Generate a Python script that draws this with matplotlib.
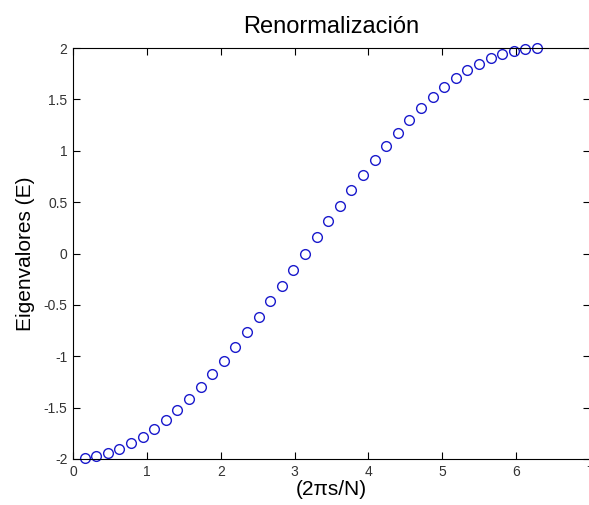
"""
Renormalization eigenvalues plot.
"""
import matplotlib.pyplot as plt

# x = 2*pi*s/N (N = 40 points)
x_vals = [0.157, 0.314, 0.471, 0.628, 0.785, 0.942, 1.100, 1.257, 1.414, 1.571,
          1.728, 1.885, 2.042, 2.199, 2.356, 2.513, 2.670, 2.827, 2.985, 3.142,
          3.299, 3.456, 3.613, 3.770, 3.927, 4.084, 4.241, 4.398, 4.555, 4.712,
          4.869, 5.027, 5.184, 5.341, 5.498, 5.655, 5.812, 5.969, 6.126, 6.283]
# eigenvalues E
e_vals = [-1.994, -1.975, -1.945, -1.902, -1.848, -1.782, -1.705, -1.618, -1.521, -1.414,
          -1.299, -1.176, -1.045, -0.908, -0.765, -0.618, -0.467, -0.313, -0.157, 0.000,
          0.157, 0.313, 0.467, 0.618, 0.765, 0.908, 1.045, 1.176, 1.299, 1.414,
          1.521, 1.618, 1.705, 1.782, 1.848, 1.902, 1.945, 1.975, 1.994, 2.000]

x_ticks = [0, 1, 2, 3, 4, 5, 6, 7]
y_ticks = [-2, -1.5, -1, -0.5, 0, 0.5, 1, 1.5, 2]
y_labels = ["-2", "-1.5", "-1", "-0.5", "0", "0.5", "1", "1.5", "2"]

plt.rcParams["font.family"] = ["Liberation Sans", "DejaVu Sans"]

fig = plt.figure(figsize=(5.89, 5.05), dpi=100)
ax = fig.add_axes([73 / 589, 46 / 505, 517 / 589, 411 / 505])

ax.plot(x_vals, e_vals, "o", markerfacecolor="none", markeredgecolor="#1a1acc",
        markersize=7, markeredgewidth=1.0, clip_on=False)

ax.set_xlim(0, 7)
ax.set_ylim(-2, 2)
ax.set_xticks(x_ticks)
ax.set_yticks(y_ticks)
ax.set_yticklabels(y_labels)
ax.tick_params(direction="in", top=True, right=True, length=5, width=0.8,
               labelsize=10, labelcolor="#333333", pad=4)
for sp in ax.spines.values():
    sp.set_linewidth(0.8)

ax.set_title("Renormalización", fontsize=17, pad=11)
ax.set_xlabel("(2πs/N)", fontsize=15, labelpad=1)
ax.set_ylabel("Eigenvalores (E)", fontsize=15, labelpad=6)

fig.savefig("out.png", dpi=100)
